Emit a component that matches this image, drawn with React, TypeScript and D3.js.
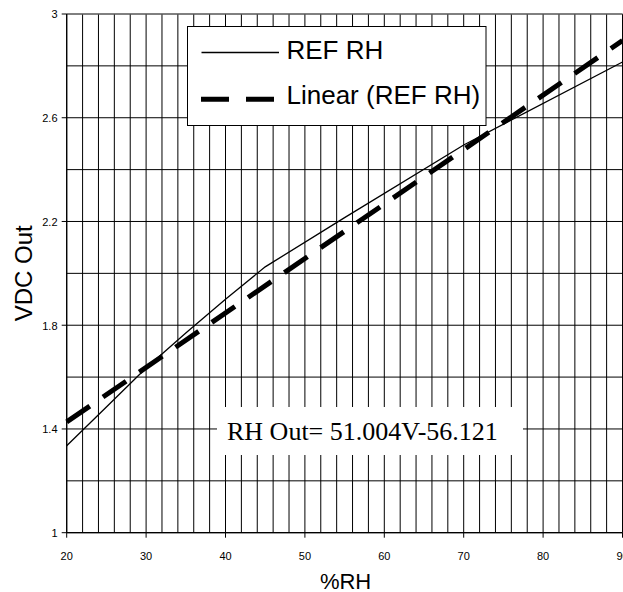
import React from 'react';
import * as d3 from 'd3';

// ---- data ----
const rhPoints = [20, 25, 30, 35, 40, 45, 55, 70, 90];
const vdcPoints = [1.335, 1.485, 1.635, 1.77, 1.9, 2.025, 2.215, 2.495, 2.815];
const xTickLabels = [20, 30, 40, 50, 60, 70, 80, 90];
const yTickLabels = [1, 1.4, 1.8, 2.2, 2.6, 3];
const seriesName = 'REF RH';
const trendName = 'Linear (REF RH)';
const equationText = 'RH Out= 51.004V-56.121';
const xTitle = '%RH';
const yTitle = 'VDC Out';

const W = 623;
const H = 592;
const plot = { left: 66.7, right: 622.5, top: 14, bottom: 532.7 };
const SANS = '"Liberation Sans", Arial, sans-serif';
const SERIF = '"Liberation Serif", "Times New Roman", serif';

export default function App() {
  const x = d3.scaleLinear().domain([20, 90]).range([plot.left, plot.right]);
  const y = d3.scaleLinear().domain([1, 3]).range([plot.bottom, plot.top]);
  const xGrid = d3.range(20, 90.001, 2);
  const yGrid = d3.range(1, 3.001, 0.2);

  const data: [number, number][] = rhPoints.map((r, i) => [r, vdcPoints[i]]);
  const line = d3
    .line<[number, number]>()
    .x((d) => x(d[0]))
    .y((d) => y(d[1]));

  // least-squares linear trend (V on RH)
  const mx = d3.mean(rhPoints) as number;
  const my = d3.mean(vdcPoints) as number;
  let sxy = 0;
  let sxx = 0;
  rhPoints.forEach((r, i) => {
    sxy += (r - mx) * (vdcPoints[i] - my);
    sxx += (r - mx) * (r - mx);
  });
  const slope = sxy / sxx;
  const intercept = my - slope * mx;
  const xd = x.domain();
  const trend: [number, number][] = xd.map((r) => [r, intercept + slope * r]);

  return (
    <div style={{ position: 'absolute', left: 0, top: 0 }}>
      <svg width={W} height={H} style={{ display: 'block', background: '#fff' }}>
        <rect x={0} y={0} width={W} height={H} fill="#fff" />
        {/* grid */}
        <g stroke="#000" strokeWidth={1}>
          {xGrid.map((v) => (
            <line key={'gx' + v} x1={x(v)} x2={x(v)} y1={plot.top} y2={plot.bottom} />
          ))}
          {yGrid.map((v) => (
            <line key={'gy' + v} x1={plot.left} x2={plot.right} y1={y(v)} y2={y(v)} />
          ))}
        </g>
        <line x1={plot.left} x2={plot.right} y1={plot.top} y2={plot.top} stroke="#808080" strokeWidth={1} />
        {/* axes */}
        <line x1={plot.left} x2={plot.left} y1={plot.top} y2={plot.bottom} stroke="#000" strokeWidth={1.2} />
        <line x1={plot.left} x2={plot.right} y1={plot.bottom} y2={plot.bottom} stroke="#000" strokeWidth={1.2} />
        {yTickLabels.map((v) => (
          <g key={'yt' + v}>
            <line x1={plot.left - 5} x2={plot.left} y1={y(v)} y2={y(v)} stroke="#000" />
            <text x={57.5} y={y(v) + 4.3} textAnchor="end" fontFamily={SANS} fontSize={11} fill="#000">
              {String(v)}
            </text>
          </g>
        ))}
        {xTickLabels.map((v) => (
          <g key={'xt' + v}>
            <line x1={x(v)} x2={x(v)} y1={plot.bottom} y2={plot.bottom + 5} stroke="#000" />
            <text x={x(v)} y={560} textAnchor="middle" fontFamily={SANS} fontSize={11} fill="#000">
              {String(v)}
            </text>
          </g>
        ))}
        {/* series */}
        <path d={line(data) || ''} fill="none" stroke="#000" strokeWidth={1.3} />
        <path
          d={line(trend) || ''}
          fill="none"
          stroke="#000"
          strokeWidth={5}
          strokeDasharray="28,16"
        />
        {/* equation label */}
        <rect x={217} y={407} width={306} height={48} fill="#fff" />
        <text x={227} y={440} fontFamily={SERIF} fontSize={26} fill="#000">
          {equationText}
        </text>
        {/* legend */}
        <rect x={187.5} y={26.5} width={298.5} height={99} fill="#fff" stroke="#000" strokeWidth={1} />
        <line x1={201.5} x2={279} y1={52.5} y2={52.5} stroke="#000" strokeWidth={1.3} />
        <text x={286.5} y={59} fontFamily={SANS} fontSize={26} fill="#000">
          {seriesName}
        </text>
        <line x1={201} x2={274} y1={99.3} y2={99.3} stroke="#000" strokeWidth={5} strokeDasharray="28,17" />
        <text x={286.5} y={104} fontFamily={SANS} fontSize={26} fill="#000">
          {trendName}
        </text>
        {/* axis titles */}
        <text
          transform={`translate(32,${(plot.top + plot.bottom) / 2}) rotate(-90)`}
          textAnchor="middle"
          fontFamily={SANS}
          fontSize={24}
          fill="#000"
        >
          {yTitle}
        </text>
        <text x={(plot.left + plot.right) / 2 + 1} y={589} textAnchor="middle" fontFamily={SANS} fontSize={22} fill="#000">
          {xTitle}
        </text>
      </svg>
    </div>
  );
}
